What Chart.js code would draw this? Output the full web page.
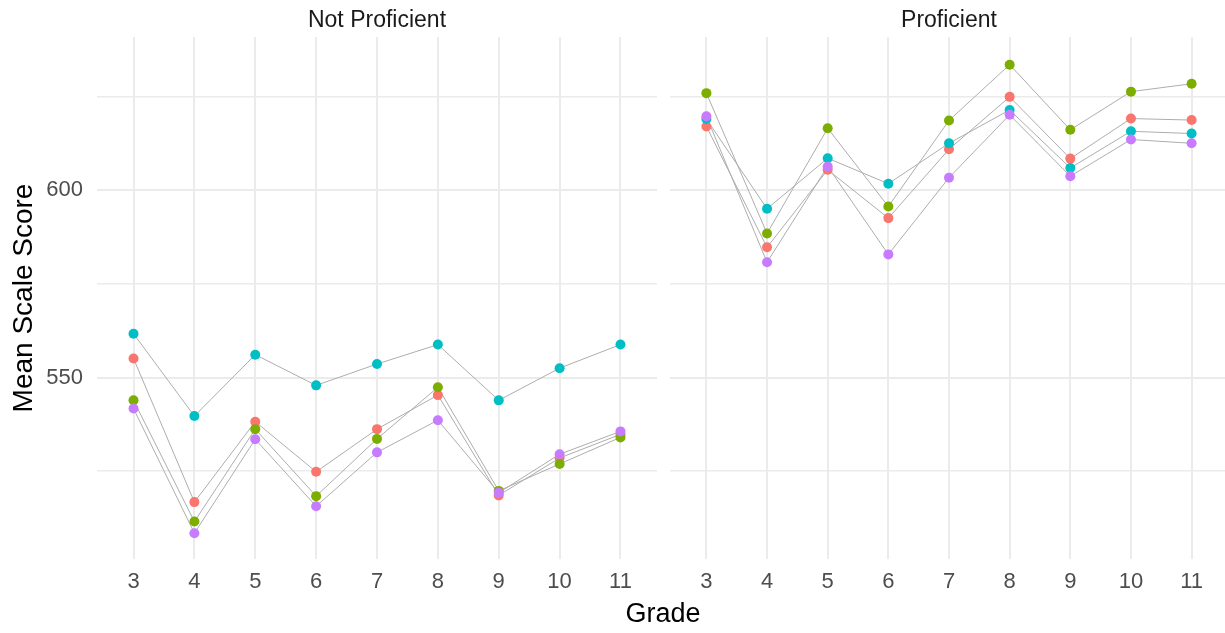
<!DOCTYPE html>
<html>
<head>
<meta charset="utf-8">
<script src="https://cdn.jsdelivr.net/npm/chart.js@4.4.1/dist/chart.umd.min.js"></script>
<style>
  html, body { margin: 0; padding: 0; background: #fff; overflow: hidden; }
  #wrap { position: relative; width: 1225px; height: 633px; overflow: hidden; }
  canvas { position: absolute; top: 0; }
  #left { left: 0; }
  #right { left: 662px; }
  #xtitle {
    position: absolute; left: 563px; width: 200px; top: 600px;
    text-align: center; font: 27px "Liberation Sans", Arial, sans-serif;
    line-height: 27px; color: #000;
  }
</style>
</head>
<body>
<div id="wrap">
  <canvas id="left" width="662" height="633"></canvas>
  <canvas id="right" width="571" height="633"></canvas>
  <div id="xtitle">Grade</div>
</div>
<script>
const grades = [3, 4, 5, 6, 7, 8, 9, 10, 11];
const yGridValues = [525, 550, 575, 600, 625];
const yLabelValues = [550, 600];

// Not Proficient panel
const notProf1 = [555.1, 516.7, 538.2, 524.8, 536.2, 545.3, 518.5, 528.5, 534.8];
const notProf2 = [543.9, 511.5, 536.2, 518.3, 533.6, 547.4, 519.7, 526.9, 534.0];
const notProf3 = [561.7, 539.7, 556.1, 547.9, 553.6, 558.8, 543.9, 552.5, 558.8];
const notProf4 = [541.7, 508.4, 533.5, 515.6, 530.0, 538.6, 519.2, 529.5, 535.6];

// Proficient panel
const prof1 = [617.1, 584.8, 605.5, 592.6, 611.0, 625.0, 608.5, 619.2, 618.8];
const prof2 = [626.0, 588.5, 616.6, 595.7, 618.7, 633.6, 616.2, 626.4, 628.5];
const prof3 = [619.1, 595.1, 608.6, 601.8, 612.6, 621.5, 606.0, 615.8, 615.2];
const prof4 = [619.8, 580.8, 606.4, 582.9, 603.4, 620.2, 603.8, 613.6, 612.6];

const groupColors = ["#F8766D", "#7CAE00", "#00BFC4", "#C77CFF"];
const FONT = '"Liberation Sans", Arial, sans-serif';
Chart.defaults.font.family = FONT;

const stripLabel = {
    id: "stripLabel",
    afterDraw(chart, args, opts) {
        const { ctx, chartArea } = chart;
        ctx.save();
        ctx.font = "23px " + FONT;
        ctx.fillStyle = "#1a1a1a";
        ctx.textAlign = "center";
        ctx.textBaseline = "alphabetic";
        ctx.fillText(opts.text, (chartArea.left + chartArea.right) / 2, 27);
        ctx.restore();
    }
};

function toPoints(values) {
    return values.map((v, i) => ({ x: grades[i], y: v }));
}

function buildDatasets(series) {
    const lines = series.map(s => ({
        data: toPoints(s),
        borderColor: "#adadad",
        borderWidth: 1,
        pointRadius: 0,
        tension: 0,
        order: 10
    }));
    // first group sits lowest, last group on top
    const points = series.map((s, i) => ({
        data: toPoints(s),
        showLine: false,
        pointRadius: 5,
        pointHoverRadius: 5,
        pointBackgroundColor: groupColors[i],
        pointBorderWidth: 0,
        order: 4 - i
    }));
    return lines.concat(points);
}

function renderPanel(canvas, title, series, yLeftWidth, showYLabels) {
    return new Chart(canvas, {
        type: "line",
        data: { datasets: buildDatasets(series) },
        plugins: [stripLabel],
        options: {
            responsive: false,
            animation: false,
            layout: { padding: { top: 37, left: 0, right: 0, bottom: 0 } },
            scales: {
                x: {
                    type: "linear",
                    min: 2.4,
                    max: 11.6,
                    afterBuildTicks: s => { s.ticks = grades.map(g => ({ value: g })); },
                    afterFit: s => { s.height = 74; },
                    ticks: { color: "#4d4d4d", font: { size: 22 }, padding: 10, maxRotation: 0 },
                    grid: { color: "#ebebeb", lineWidth: 2, drawTicks: false },
                    border: { display: false }
                },
                y: {
                    type: "linear",
                    min: 501.5,
                    max: 641,
                    afterBuildTicks: s => { s.ticks = yGridValues.map(v => ({ value: v })); },
                    afterFit: s => { s.width = yLeftWidth; },
                    ticks: {
                        display: showYLabels,
                        color: "#4d4d4d",
                        font: { size: 22 },
                        padding: 14,
                        callback: v => yLabelValues.includes(v) ? String(v) : ""
                    },
                    grid: {
                        color: "#ebebeb",
                        lineWidth: c => yLabelValues.includes(c.tick.value) ? 2 : 1.6,
                        drawTicks: false
                    },
                    border: { display: false },
                    title: {
                        display: showYLabels,
                        text: "Mean Scale Score",
                        color: "#000",
                        font: { size: 28 },
                        padding: { top: 7, bottom: 0 }
                    }
                }
            },
            plugins: {
                legend: { display: false },
                tooltip: { enabled: false },
                stripLabel: { text: title }
            }
        }
    });
}

renderPanel(document.getElementById("left"), "Not Proficient",
    [notProf1, notProf2, notProf3, notProf4], 97, true);
renderPanel(document.getElementById("right"), "Proficient",
    [prof1, prof2, prof3, prof4], 8, false);
</script>
</body>
</html>
